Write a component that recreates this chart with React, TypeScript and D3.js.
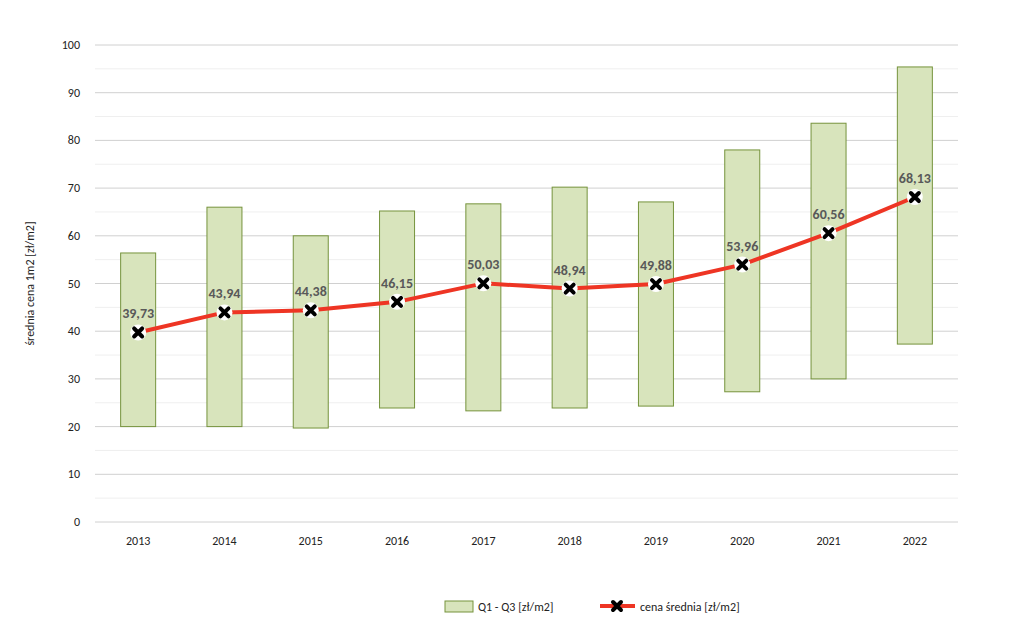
import React from 'react';
import * as d3 from 'd3';

const years = ['2013', '2014', '2015', '2016', '2017', '2018', '2019', '2020', '2021', '2022'];
const q1 = [20, 20, 19.7, 23.9, 23.3, 23.9, 24.3, 27.3, 30, 37.3];
const q3 = [56.4, 66, 60, 65.2, 66.7, 70.2, 67.1, 78, 83.6, 95.4];
const mean = [39.73, 43.94, 44.38, 46.15, 50.03, 48.94, 49.88, 53.96, 60.56, 68.13];
const yTicks = [0, 10, 20, 30, 40, 50, 60, 70, 80, 90, 100];
const minorTicks = [5, 15, 25, 35, 45, 55, 65, 75, 85, 95];

const W = 1024, H = 624;
const m = { left: 95, right: 958, top: 45, bottom: 522 };
const font = 'Calibri, Carlito, "Liberation Sans", Arial, sans-serif';

export default function App() {
  const x = d3.scaleBand().domain(years).range([m.left, m.right]);
  const y = d3.scaleLinear().domain([0, 100]).range([m.bottom, m.top]);
  const cx = (yr: string) => (x(yr) || 0) + x.bandwidth() / 2;
  const bw = 35;
  const line = d3.line<number>().x((_, i) => cx(years[i])).y(d => y(d));
  const cross = (px: number, py: number, k: number) => {
    const s = 4;
    return <path key={k} d={`M${px - s},${py - s}L${px + s},${py + s}M${px - s},${py + s}L${px + s},${py - s}`} stroke="#000" strokeWidth={4} strokeLinecap="round" />;
  };
  return (
    <svg width={W} height={H} style={{ position: 'absolute', left: 0, top: 0, background: '#fff' }} fontFamily={font}>
      {minorTicks.map(t => <line key={'m' + t} x1={m.left} x2={m.right} y1={y(t)} y2={y(t)} stroke="#efefef" />)}
      {yTicks.map(t => (
        <g key={t}>
          <line x1={m.left} x2={m.right} y1={y(t)} y2={y(t)} stroke="#d0d0d0" />
          <text x={80} y={y(t) + 4} textAnchor="end" fontSize={12} fill="#222">{t}</text>
        </g>
      ))}
      {years.map(yr => (
        <text key={yr} x={cx(yr)} y={545} textAnchor="middle" fontSize={12} fill="#222">{yr}</text>
      ))}
      <text transform={`translate(34,${(m.top + m.bottom) / 2}) rotate(-90)`} textAnchor="middle" fontSize={12} fill="#222">średnia cena 1m2 [zł/m2]</text>
      {years.map((yr, i) => (
        <rect key={yr} x={cx(yr) - bw / 2} y={y(q3[i])} width={bw} height={y(q1[i]) - y(q3[i])} fill="#d8e4bc" stroke="#76933c" strokeWidth={1} />
      ))}
      <path d={line(mean) || ''} fill="none" stroke="#ee3524" strokeWidth={4} strokeLinejoin="round" />
      {mean.map((v, i) => (
        <g key={i}>
          <circle cx={cx(years[i])} cy={y(v)} r={8} fill="#fff" />
          {cross(cx(years[i]), y(v), i)}
          <text x={cx(years[i])} y={y(v) - 14} textAnchor="middle" fontSize={14} fontWeight="bold" fill="#595959">{v.toFixed(2).replace('.', ',')}</text>
        </g>
      ))}
      <rect x={445} y={601} width={28} height={11} fill="#d8e4bc" stroke="#76933c" />
      <text x={478} y={611} fontSize={12} fill="#222">Q1 - Q3 [zł/m2]</text>
      <line x1={600} x2={635} y1={606} y2={606} stroke="#ee3524" strokeWidth={4} />
      {cross(617, 606, 99)}
      <text x={640} y={611} fontSize={12} fill="#222">cena średnia [zł/m2]</text>
    </svg>
  );
}
